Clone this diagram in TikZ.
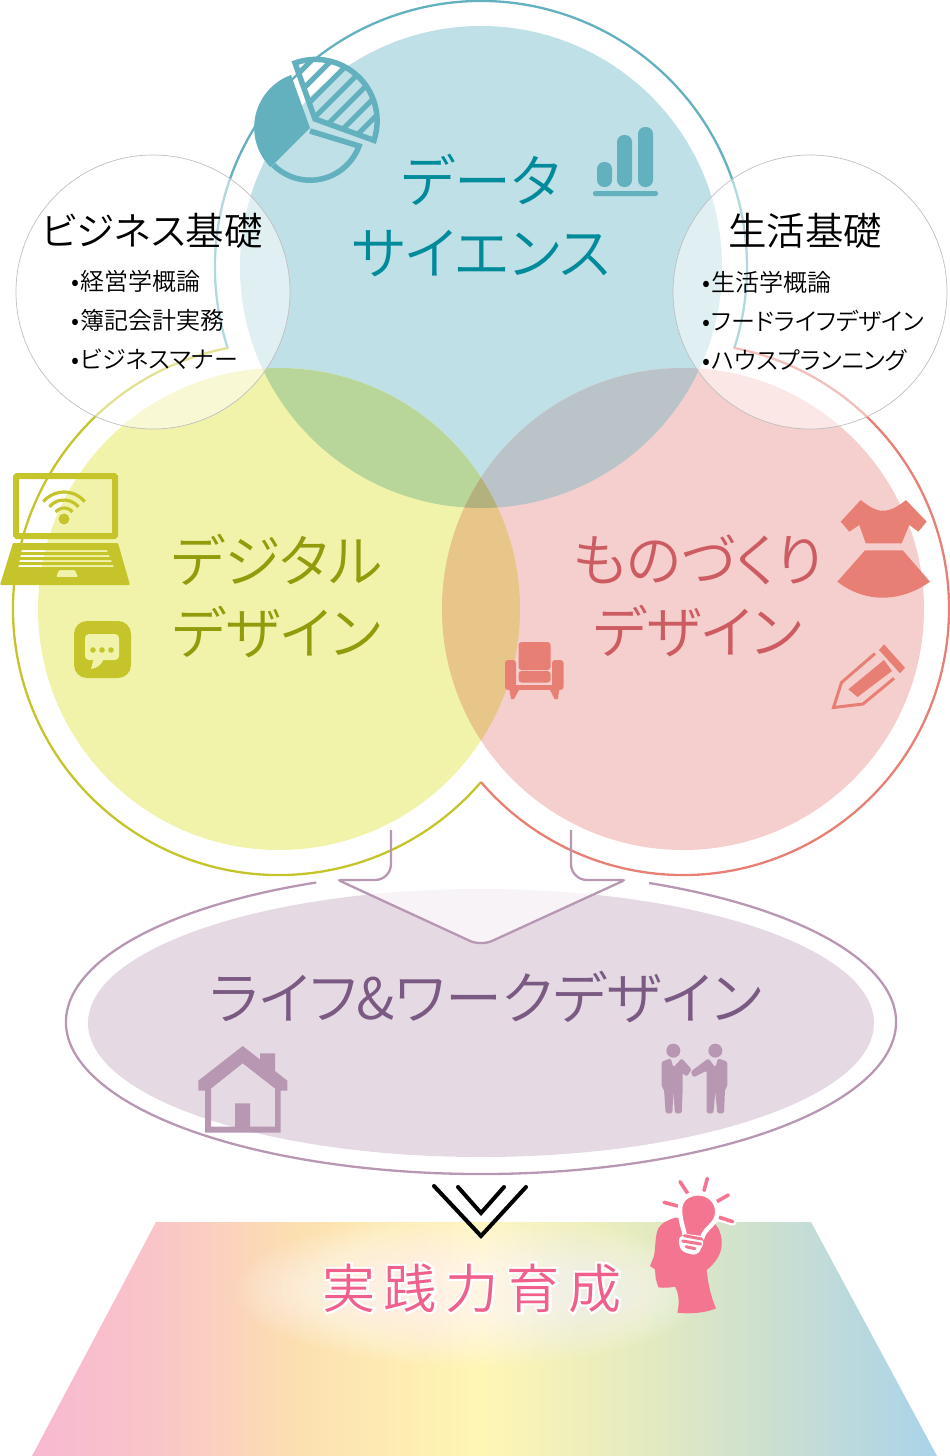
\documentclass[tikz,border=0pt]{standalone}
\usepackage{fontspec}
\IfFontExistsTF{Noto Sans CJK JP DemiLight}{\newfontfamily\cjk{Noto Sans CJK JP DemiLight}}{\newfontfamily\cjk{Noto Sans CJK JP}}

\definecolor{dataFill}{HTML}{BFE0E6}
\definecolor{dataLine}{HTML}{63B0BF}
\definecolor{dataText}{HTML}{008B9B}
\definecolor{digiFill}{HTML}{F1F3AA}
\definecolor{digiLine}{HTML}{C5C42B}
\definecolor{digiText}{HTML}{929B0C}
\definecolor{monoFill}{HTML}{F5CFCD}
\definecolor{monoLine}{HTML}{E87F75}
\definecolor{monoText}{HTML}{CC5C62}
\definecolor{lifeFill}{HTML}{E5D9E4}
\definecolor{lifeLine}{HTML}{B897B3}
\definecolor{lifeText}{HTML}{7A5A82}
\definecolor{headPink}{HTML}{F4758F}
\definecolor{kekkaText}{HTML}{F0608A}
\definecolor{dataDigi}{HTML}{B8D69A}
\definecolor{dataMono}{HTML}{BAC4C8}
\definecolor{digiMono}{HTML}{E8C588}
\definecolor{allThree}{HTML}{B3B27F}
\definecolor{gradA}{HTML}{F8B8D2}
\definecolor{gradB}{HTML}{F9C5C8}
\definecolor{gradC}{HTML}{FCE0B0}
\definecolor{gradD}{HTML}{FFF6B4}
\definecolor{gradE}{HTML}{E3EAC0}
\definecolor{gradF}{HTML}{C3DCD6}
\definecolor{gradG}{HTML}{A9D3EA}

\pgfdeclarehorizontalshading{lifegrad}{100bp}{
  color(0bp)=(gradA);
  color(25bp)=(gradA);
  color(31.85bp)=(gradB);
  color(39.8bp)=(gradC);
  color(49.8bp)=(gradD);
  color(59.1bp)=(gradE);
  color(68bp)=(gradF);
  color(75bp)=(gradG);
  color(100bp)=(gradG)}

\newcommand{\lidot}{•\kern1pt}

\tikzset{
  bigtext/.style={font=\cjk\addfontfeature{RawFeature=+palt}\fontsize{57}{72}\selectfont, align=center},
  basehead/.style={font=\cjk\addfontfeature{RawFeature=+palt}\fontsize{38.5}{40}\selectfont, text=black},
  baselist/.style={font=\cjk\addfontfeature{RawFeature=+palt}\fontsize{24}{39.3}\selectfont, text=black, align=left},
  basecircle/.style={draw=black!25, line width=0.7pt},
  outline/.style={line width=2.3pt},
  pierim/.style={draw=dataLine, line width=5.5pt, line join=miter},
  rayline/.style={line width=3.6pt, line cap=round}
}

\begin{document}
\begin{tikzpicture}[x=1pt,y=1pt]
    \useasboundingbox (0,0) rectangle (950,-1456);

    %% Three big circles
    \fill[dataFill] (481,-267) circle (241);
    \fill[digiFill] (279,-609) circle (241);
    \fill[monoFill] (683,-609) circle (241);
    % Overlaps
    \begin{scope}
        \clip (481,-267) circle (241);
        \fill[dataDigi] (279,-609) circle (241);
        \fill[dataMono] (683,-609) circle (241);
    \end{scope}
    \begin{scope}
        \clip (279,-609) circle (241);
        \clip (683,-609) circle (241);
        \fill[digiMono] (400,-450) rectangle (560,-760);
        \clip (481,-267) circle (241);
        \fill[allThree] (400,-450) rectangle (560,-520);
    \end{scope}

    % Outer lines
    \draw[outline, dataLine] (481,-267) ++(197.75:266) arc[start angle=197.75, end angle=-17.75, radius=266];
    \draw[outline, digiLine] (279,-609) ++(101:266) arc[start angle=101, end angle=319.4, radius=266];
    \draw[outline, monoLine] (683,-609) ++(79:266) arc[start angle=79, end angle=-139.4, radius=266];

    %% Life and work ellipse
    \fill[lifeFill] (481,-1023) ellipse (393 and 134);
    \draw[outline, lifeLine] (481,-1022) ++(113.4:415 and 152) arc[start angle=113.4, end angle=426.1, x radius=415, y radius=152];

    % Big arrow
    \fill[white, fill opacity=0.7, rounded corners=8] (338,-880) -- (481,-946) -- (625,-880) -- cycle;
    \draw[outline, lifeLine] (391,-830) [rounded corners=16] -- (391,-880) [rounded corners=3] -- (338,-880)
        [rounded corners=12] -- (481,-946) [rounded corners=3] -- (625,-880) [rounded corners=16] -- (571,-880) -- (571,-830);

    %% Ground trapezoid
    \begin{scope}
        \clip (156,-1222) -- (811,-1222) -- (937,-1456) -- (32,-1456) -- cycle;
        \shade[shading=lifegrad] (32,-1222) rectangle (937,-1456);
        \foreach \r in {1,...,20}
            \fill[white, fill opacity=0.06] (472,-1290) ellipse ({125+\r*5.5} and {16+\r*3});
    \end{scope}

    % Chevrons
    \draw[line width=4pt, line cap=round, line join=miter] (434,-1186) -- (481,-1236) -- (526,-1187);
    \draw[line width=4pt, line cap=round, line join=miter] (458,-1187) -- (481,-1213) -- (504,-1187);

    %% Pie icon
    \fill[dataLine] (310,-128) -- (291,-75) arc[start angle=110, end angle=225, radius=56] -- cycle;
    \draw[pierim] (310,-131) -- (359,-146) arc[start angle=-20, end angle=-135, radius=52];
    \begin{scope}
        \clip (315,-119) -- (295,-63) arc[start angle=109.6, end angle=-18.4, radius=61.5] -- cycle;
        \foreach \c in {372,392,...,492}
            \draw[dataLine, line width=5pt] ({(\c+150)/2},{-(\c-150)/2}) -- ({(\c+290)/2},{-(\c-290)/2});
    \end{scope}
    \draw[pierim] (315,-119) -- (295,-63) arc[start angle=109.6, end angle=-18.4, radius=61.5] -- cycle;

    % Bars icon
    \fill[dataLine, rounded corners=7] (597,-162) rectangle (612,-187);
    \fill[dataLine, rounded corners=7] (617,-135) rectangle (632,-187);
    \fill[dataLine, rounded corners=7] (638,-127) rectangle (653,-187);
    \fill[dataLine, rounded corners=2.3] (593,-191) rectangle (658,-196);

    %% Laptop
    \draw[digiLine, line width=6pt, rounded corners=1] (16,-476) rectangle (115,-536);
    \fill[digiLine, rounded corners=1, even odd rule] (13,-543) -- (118,-543) -- (130,-585) -- (0,-585) -- cycle
        (21,-550) -- (108,-550) -- (108,-552) -- (21,-552) -- cycle
        (20,-555) -- (110,-555) -- (110,-557) -- (20,-557) -- cycle
        (19,-560) -- (112,-560) -- (112,-562) -- (19,-562) -- cycle
        (18,-565) -- (114,-565) -- (114,-567) -- (18,-567) -- cycle
        (59,-570) -- (75,-570) -- (78,-577) -- (56,-577) -- cycle;
    \fill[digiLine] (64,-519) circle (5.5);
    \foreach \r in {11,19,27}
        \draw[digiLine, line width=3.2pt] (64,-519) ++(40:\r) arc[start angle=40, end angle=140, radius=\r];

    % Chat icon
    \fill[digiLine, rounded corners=13] (74,-621) rectangle (131,-678);
    \fill[digiFill, rounded corners=4] (85,-634) rectangle (119,-660);
    \fill[digiFill] (94,-658) -- (104,-658) .. controls (102,-665) and (97,-668) .. (91,-669) -- cycle;
    \foreach \x in {93,102,111}
        \fill[digiLine] (\x,-650) circle (2.8);

    %% Dress
    \fill[monoLine] (860.7,-500) .. controls (870,-507) and (875,-510.7) .. (883,-510.7)
        .. controls (891,-510.7) and (897,-507) .. (906,-500)
        -- (926.7,-521.7) -- (918.3,-531.7) -- (909.3,-525) -- (901.7,-543.3) -- (865.7,-543.3)
        -- (859.3,-525) -- (849.3,-531.7) -- (840.7,-521.7) -- cycle;
    \fill[monoLine] (865,-550.3) -- (902.7,-550.3) -- (930,-581.7)
        .. controls (900,-603) and (865,-603) .. (837.3,-581.7) -- cycle;

    % Pencil
    \fill[monoLine] (884,-644.3) -- (905,-667.7) -- (900,-673.3) -- (879,-650) -- cycle;
    \draw[monoLine, line width=3pt, line join=miter] (875,-653.5) -- (841.5,-682.5) -- (833.5,-707.5) -- (863,-704) -- (894,-678.3);
    \fill[monoLine] (848.3,-689.3) -- (884,-660) -- (892,-671) -- (857.5,-697) -- cycle;

    % Sofa
    \fill[monoLine, rounded corners=3] (505,-660) rectangle (516,-690);
    \fill[monoLine, rounded corners=3] (552,-660) rectangle (563.5,-690);
    \fill[monoLine] (510,-684.5) rectangle (558,-690);
    \fill[monoLine, rounded corners=3] (518.5,-642) rectangle (550.5,-670);
    \fill[monoLine, rounded corners=3] (518.5,-671) rectangle (550.5,-682.5);
    \fill[monoLine] (509.5,-690) -- (519,-690) -- (514,-699) -- (511,-699) -- cycle;
    \fill[monoLine] (550,-690) -- (559,-690) -- (558,-699) -- (554.5,-699) -- cycle;

    %% House
    \fill[lifeLine, even odd rule] (242.7,-1046) -- (260,-1059.5) -- (260,-1053.3) -- (275,-1053.3) -- (275,-1071) -- (287.3,-1080.7) -- (287.3,-1090.7)
        -- (280.7,-1090.7) -- (280.7,-1132.7) -- (205,-1132.7) -- (205,-1090.7) -- (198.3,-1090.7) -- (198.3,-1080.7) -- cycle
        (242.7,-1063.3) -- (275,-1088.5) -- (275,-1126.7) -- (211,-1126.7) -- (211,-1088.5) -- cycle
        (235,-1103.3) -- (250,-1103.3) -- (250,-1126.7) -- (235,-1126.7) -- cycle;

    % Two people
    \begin{scope}[shift={(640,-1030)}, scale=1/3]
        \fill[lifeLine] (100,-62) circle (21);
        \fill[lifeLine] (226,-62) circle (21);
        \fill[lifeLine, rounded corners=1.5] (65,-95) -- (92,-85) -- (100,-112) -- (125,-85) -- (155,-118) -- (140,-140) -- (128,-128)
            -- (128,-178) -- (125,-250) -- (105,-250) -- (100,-185) -- (97,-250) -- (77,-250) -- (72,-178) -- (65,-170) -- cycle;
        \fill[lifeLine, rounded corners=1.5] (262,-95) -- (234,-85) -- (226,-112) -- (205,-85) -- (152,-125) -- (160,-142) -- (200,-122)
            -- (200,-178) -- (200,-250) -- (220,-250) -- (226,-185) -- (232,-250) -- (252,-250) -- (255,-178) -- (262,-170) -- cycle;
    \end{scope}

    %% Head with bulb
    \begin{scope}[shift={(640,-1170)}, scale=1/3]
        \fill[headPink] (105,-143) .. controls (70,-155) and (55,-165) .. (50,-190) .. controls (45,-215) and (46,-240) .. (42,-258)
            -- (30,-288) -- (45,-298) -- (47,-325) -- (55,-352) .. controls (75,-355) and (95,-352) .. (105,-350)
            .. controls (118,-370) and (118,-405) .. (112,-428) .. controls (150,-433) and (200,-428) .. (228,-415)
            .. controls (215,-385) and (205,-350) .. (200,-300) .. controls (225,-280) and (248,-250) .. (245,-215)
            .. controls (245,-190) and (235,-170) .. (215,-150) -- cycle;
        \draw[white, line width=8pt, line cap=round] (238,-142) -- (278,-155);
        \draw[headPink, rayline] (120,-35) -- (143,-70);
        \draw[headPink, rayline] (202,-25) -- (192,-62);
        \draw[headPink, rayline] (265,-75) -- (230,-95);
        \draw[headPink, rayline] (278,-155) -- (238,-142);
        \draw[headPink, rayline] (72,-97) -- (113,-108);
        \draw[white, line width=4.5pt, fill=headPink, line join=round] (135,-198) .. controls (128,-165) and (120,-150) .. (120,-118)
            .. controls (120,-88) and (145,-70) .. (175,-70) .. controls (208,-70) and (232,-95) .. (232,-125)
            .. controls (232,-165) and (195,-170) .. (186,-205) -- cycle;
        \fill[white, rounded corners=6] (115,-195) -- (196,-210) -- (172,-258) -- (120,-243) -- cycle;
        \draw[headPink, line width=3pt, line cap=round] (133,-197) -- (185,-207);
        \draw[headPink, line width=3pt, line cap=round] (128,-213) -- (182,-222);
        \draw[headPink, line width=3pt, line cap=round] (138,-230) -- (165,-236);
    \end{scope}

    %% Small white circles
    \fill[white, fill opacity=0.5] (153,-292) circle (137);
    \draw[basecircle] (153,-292) circle (137);
    \fill[white, fill opacity=0.5] (810,-292) circle (137);
    \draw[basecircle] (810,-292) circle (137);

    %% Texts
    \node[bigtext, text=dataText] (data) at (481,-216) {データ\\サイエンス};
    \node[bigtext, text=digiText] (digi) at (277,-596) {デジタル\\デザイン};
    \node[bigtext, text=monoText] (mono) at (698,-596) {ものづくり\\デザイン};
    \node[bigtext, text=lifeText] (life) at (486,-997) {ライフ\&ワークデザイン};

    \node[basehead] (basebiz) at (152,-231) {ビジネス基礎};
    \node[basehead] (baselife) at (805,-231) {生活基礎};
    \node[baselist, anchor=west] (listbiz) at (68,-320) {\lidot 経営学概論\\\lidot 簿記会計実務\\\lidot ビジネスマナー};
    \node[baselist, anchor=west] (listlife) at (699,-321) {\lidot 生活学概論\\\lidot フードライフデザイン\\\lidot ハウスプランニング};

    \node[font=\cjk\fontsize{53}{53}\selectfont\addfontfeature{LetterSpace=16,FakeBold=8}, text=white] (kekkahalo) at (472,-1288) {実践力育成};
    \node[font=\cjk\fontsize{53}{53}\selectfont\addfontfeature{LetterSpace=16}, text=kekkaText] (kekka) at (472,-1288) {実践力育成};

\end{tikzpicture}
\end{document}
